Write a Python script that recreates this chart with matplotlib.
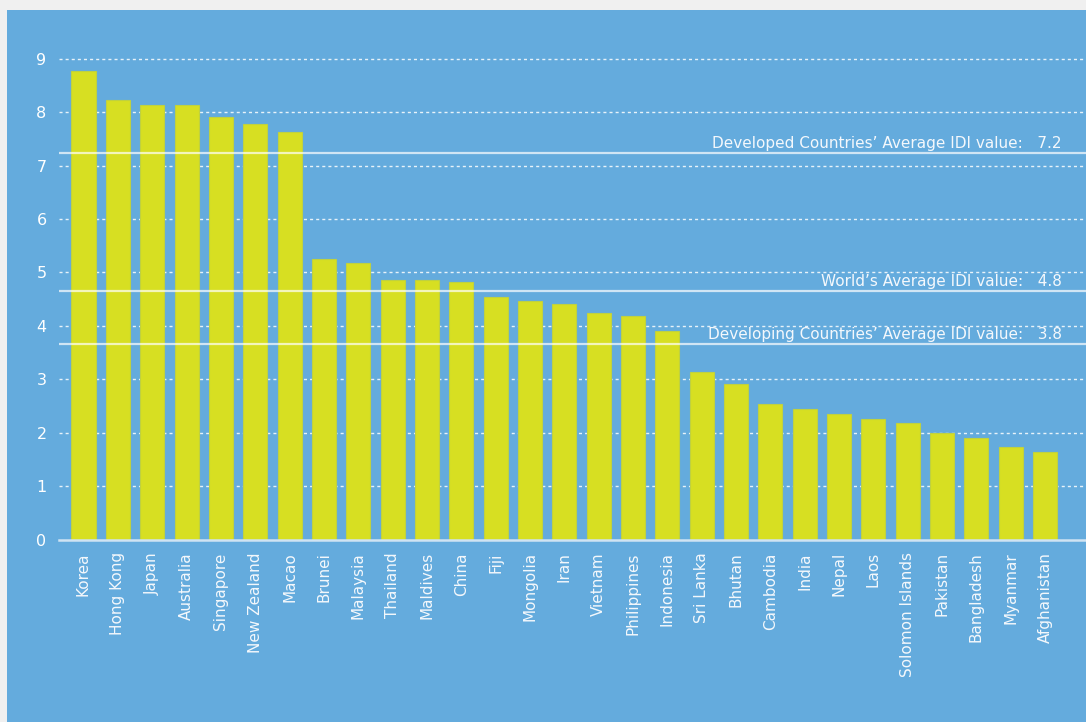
import matplotlib
matplotlib.use("Agg")
import matplotlib.pyplot as plt
from matplotlib.patches import Rectangle
import matplotlib.transforms as mtransforms

countries = ["Korea", "Hong Kong", "Japan", "Australia", "Singapore", "New Zealand", "Macao",
             "Brunei", "Malaysia", "Thailand", "Maldives", "China", "Fiji", "Mongolia", "Iran",
             "Vietnam", "Philippines", "Indonesia", "Sri Lanka", "Bhutan", "Cambodia", "India",
             "Nepal", "Laos", "Solomon Islands", "Pakistan", "Bangladesh", "Myanmar", "Afghanistan"]
idi_values = [8.77, 8.22, 8.13, 8.13, 7.90, 7.77, 7.63,
              5.26, 5.17, 4.86, 4.86, 4.82, 4.54, 4.46, 4.41,
              4.24, 4.19, 3.90, 3.13, 2.91, 2.54, 2.44,
              2.35, 2.26, 2.18, 1.99, 1.90, 1.73, 1.64]
y_ticks = [0, 1, 2, 3, 4, 5, 6, 7, 8, 9]

ref_labels = ["Developed Countries\u2019 Average IDI value:   7.2",
              "World\u2019s Average IDI value:   4.8",
              "Developing Countries\u2019 Average IDI value:   3.8"]
ref_line_values = [7.23, 4.66, 3.66]

BLUE = "#64abdd"
BAR = "#d7df22"
FONT = ["DejaVu Sans"]
plt.rcParams['font.family'] = FONT

W, H = 1086, 722
fig = plt.figure(figsize=(W / 100, H / 100), dpi=100, facecolor="#f0f0f0")
fig.patches.append(Rectangle((7 / W, 0), 1, (H - 10) / H, transform=fig.transFigure,
                             facecolor=BLUE, edgecolor="none", zorder=-10))

ax = fig.add_axes([59 / W, (H - 539.7) / H, 1 - 59 / W, (539.7 - 42.6) / H])
ax.set_zorder(5)
ax.set_facecolor("none")

x = list(range(len(countries)))
ax.bar(x, idi_values, width=0.70, color=BAR, edgecolor="#bfd140", linewidth=0.8, zorder=3)

ax.set_xlim(-0.713, 29.19)
ax.set_ylim(0, 9.3)

for v in y_ticks[1:]:
    ax.axhline(v, color="white", alpha=0.85, linewidth=1.0, linestyle=(0, (2.2, 2.2)), zorder=1)

trans = mtransforms.blended_transform_factory(ax.transAxes, ax.transData)
for lab, v in zip(ref_labels, ref_line_values):
    ax.axhline(v, color="white", alpha=0.7, linewidth=1.6, zorder=4)
    ax.text(0.9766, v + 0.035, lab, transform=trans, ha="right", va="bottom",
            color="#f4f8fc", fontsize=11, zorder=5)

ax.set_yticks(y_ticks)
ax.set_yticklabels([str(t) for t in y_ticks], fontsize=11.5, color="white")
ax.set_xticks(x)
ax.set_xticklabels(countries, rotation=90, fontsize=11, color="#f4f8fc")
ax.tick_params(axis="both", length=0)
ax.tick_params(axis="x", pad=9)
ax.tick_params(axis="y", pad=9)

for s in ["top", "right", "left"]:
    ax.spines[s].set_visible(False)
ax.spines["bottom"].set_color("#cfe3f3")
ax.spines["bottom"].set_linewidth(1.8)
ax.spines["bottom"].set_zorder(4)

fig.savefig("out.png", dpi=100, facecolor=fig.get_facecolor())
